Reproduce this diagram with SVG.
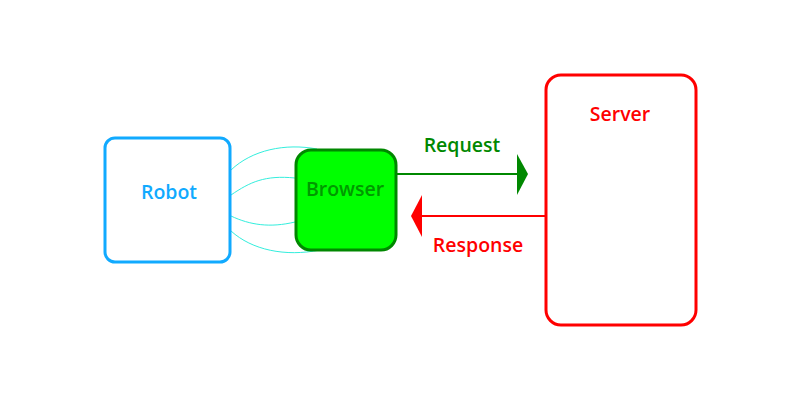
<svg xmlns="http://www.w3.org/2000/svg" width="800" height="400" viewBox="0 0 800 400">
  <style>
    .lbl { font-family: "Open Sans", "Liberation Sans", sans-serif; font-size: 19.5px; font-weight: 600; text-anchor: middle; }
    .box { stroke-width: 3; }
    .wire { fill: none; stroke: #33eedd; stroke-width: 1; }
  </style>
  <rect width="800" height="400" fill="#ffffff"/>
  <g id="connectors">
    <path class="wire" d="M231,170 C252,150 285,143 317,149"/>
    <path class="wire" d="M231,195 C250,182 265,175 295,178"/>
    <path class="wire" d="M231,216 C250,225 270,228 295,222"/>
    <path class="wire" d="M231,231 C252,250 285,257 320,250"/>
    <g id="request">
      <line x1="397" y1="174" x2="518" y2="174" stroke="#008800" stroke-width="2"/>
      <polygon points="517,154 528,174 517,195" fill="#008800"/>
      <text class="lbl" x="462" y="152" fill="#008800">Request</text>
    </g>
    <g id="response">
      <line x1="545" y1="216" x2="421" y2="216" stroke="#ff0000" stroke-width="2"/>
      <polygon points="422,195 411,216 422,237" fill="#ff0000"/>
      <text class="lbl" x="478" y="252" fill="#ff0000">Response</text>
    </g>
  </g>
  <g id="robot">
    <rect class="box" x="105" y="138" width="125" height="124" rx="10" fill="#ffffff" stroke="#11aaff"/>
    <text class="lbl" x="169" y="199" fill="#11aaff">Robot</text>
  </g>
  <g id="browser">
    <rect class="box" x="296" y="150" width="100" height="100" rx="15" fill="#00ff00" stroke="#008800"/>
    <text class="lbl" x="345" y="196" fill="#009900">Browser</text>
  </g>
  <g id="server">
    <rect class="box" x="546" y="75" width="150" height="250" rx="15" fill="#ffffff" stroke="#ff0000"/>
    <text class="lbl" x="620" y="121" fill="#ff0000">Server</text>
  </g>
</svg>
